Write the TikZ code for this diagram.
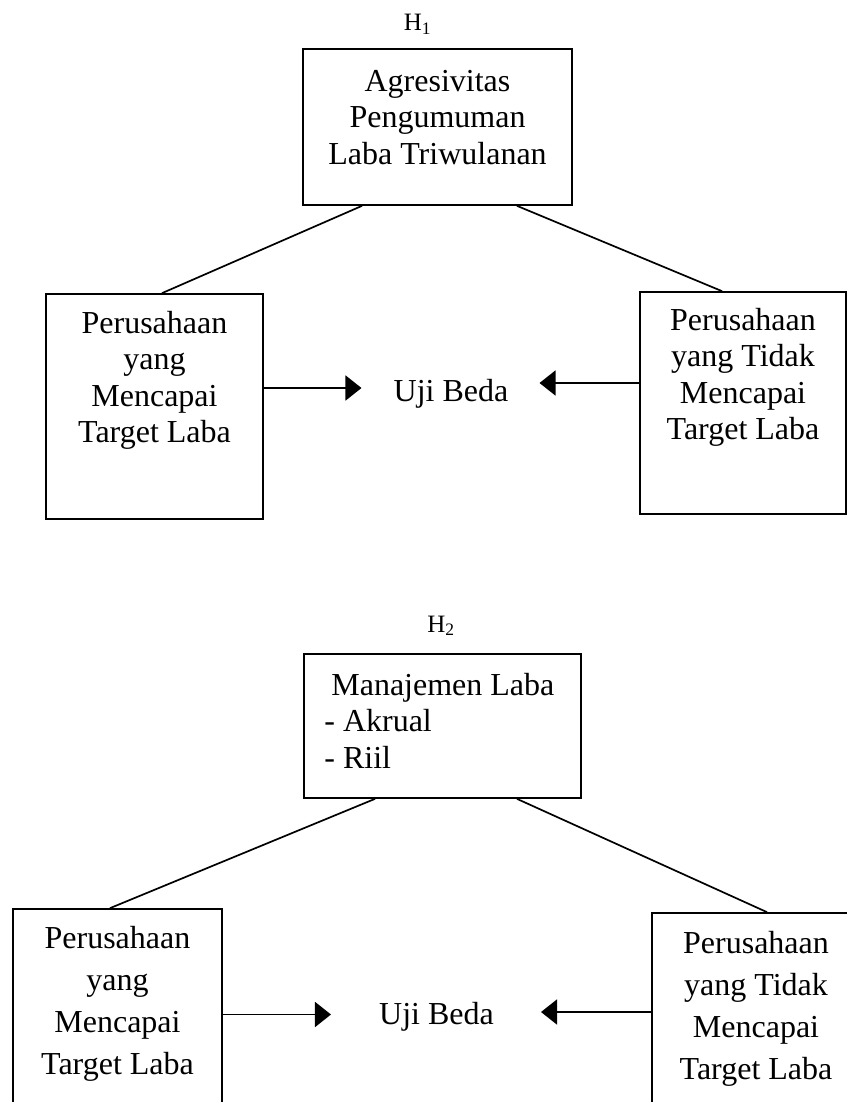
\documentclass[tikz,border=0pt]{standalone}
\usepackage{fontspec}
\setmainfont{Liberation Serif}
\usetikzlibrary{positioning,arrows.meta}

\tikzset{
  box/.style={draw,line width=1.7pt,inner sep=0pt},
  txt/.style={inner sep=0pt,align=center,font=\fontsize{32}{36.5}\selectfont},
  wide/.style={txt,font=\fontsize{32}{42}\selectfont},
  hyp/.style={inner sep=0pt,anchor=base,font=\fontsize{25}{28}\selectfont},
  link/.style={line width=1.7pt},
  arr/.style={line width=1.7pt,-{Triangle[length=16pt,width=25pt]}}
}

\begin{document}
\begin{tikzpicture}[x=1pt,y=-1pt]
  \useasboundingbox (0,0) rectangle (846,1102);

  % H1
  \node[hyp] (h1) at (417.5,31) {H\textsubscript{1}};
  \node[box,minimum width=269pt,minimum height=156pt] (agr) at (437.5,127) {};
  \node[txt,below=21.5pt of agr.north] (agrtxt) {Agresivitas\\Pengumuman\\Laba Triwulanan};
  \node[box,minimum width=217pt,minimum height=225pt] (lb1) at (154.5,406.5) {};
  \node[txt,below=17.5pt of lb1.north] (lb1txt) {Perusahaan\\yang\\Mencapai\\Target Laba};
  \node[box,minimum width=206pt,minimum height=222pt] (rb1) at (743,403) {};
  \node[txt,below=16.5pt of rb1.north] (rb1txt) {Perusahaan\\yang Tidak\\Mencapai\\Target Laba};
  \node[txt,anchor=base] (uji1) at (451,401) {Uji Beda};
  \draw[link] ([xshift=-75.5pt]agr.south) -- ([xshift=7.5pt]lb1.north);
  \draw[link] ([xshift=79.5pt]agr.south) -- ([xshift=-21pt]rb1.north);
  \draw[arr,shorten >=32pt] ([yshift=18.5pt]lb1.east) -- ([yshift=18.5pt]lb1.east -| uji1.west);
  \draw[arr,shorten >=31pt] ([yshift=20pt]rb1.west) -- ([yshift=20pt]rb1.west -| uji1.east);

  % H2
  \node[hyp] (h2) at (441,632) {H\textsubscript{2}};
  \node[box,minimum width=277pt,minimum height=144pt] (mj) at (442.5,726) {};
  \node[txt,align=left,below right=19.5pt and 21pt of mj.north west] (mjtxt) {\hspace*{7pt}Manajemen Laba\\- Akrual\\- Riil};
  \node[box,minimum width=209pt,minimum height=211pt] (lb2) at (117.5,1014.5) {};
  \node[wide,below=17.5pt of lb2.north] (lb2txt) {Perusahaan\\yang\\Mencapai\\Target Laba};
  \node[box,minimum width=208pt,minimum height=207pt] (rb2) at (756,1016.5) {};
  \node[wide,below=18.5pt of rb2.north] (rb2txt) {Perusahaan\\yang Tidak\\Mencapai\\Target Laba};
  \node[txt,anchor=base] (uji2) at (436.5,1024) {Uji Beda};
  \draw[link] ([xshift=-67.5pt]mj.south) -- ([xshift=-7.5pt]lb2.north);
  \draw[link] ([xshift=74.5pt]mj.south) -- ([xshift=11pt]rb2.north);
  \draw[arr,shorten >=48pt] (lb2.east) -- (lb2.east -| uji2.west);
  \draw[arr,shorten >=47pt] ([yshift=4.5pt]rb2.west) -- ([yshift=4.5pt]rb2.west -| uji2.east);
\end{tikzpicture}
\end{document}
